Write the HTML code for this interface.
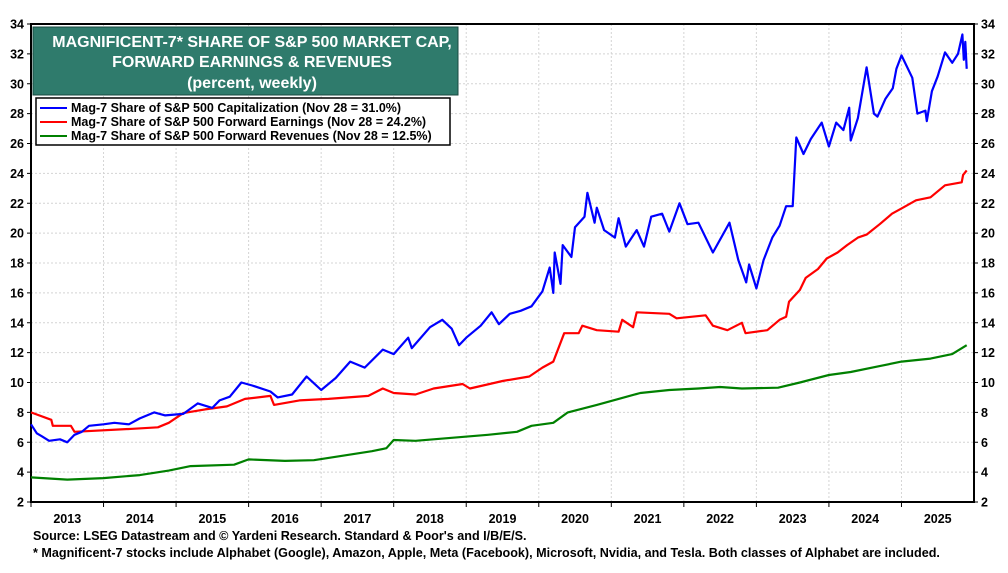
<!DOCTYPE html>
<html><head><meta charset="utf-8"><style>
body{margin:0;background:#fff;width:1008px;height:568px;overflow:hidden;font-family:"Liberation Sans",Arial,sans-serif}
svg text{font-family:"Liberation Sans",Arial,sans-serif;font-weight:bold}
</style></head><body>
<svg id="chart" width="1008" height="568" xmlns="http://www.w3.org/2000/svg">
<g id="grid"></g>
<g id="axes"></g>
<g id="series"></g>
<g>
<rect x="33" y="27" width="425" height="68" fill="#2f7b6c" stroke="#1a4a40" stroke-width="1"/>
<text x="252" y="47" fill="#fff" font-size="16" text-anchor="middle">MAGNIFICENT-7* SHARE OF S&amp;P 500 MARKET CAP,</text>
<text x="252" y="67" fill="#fff" font-size="16" text-anchor="middle">FORWARD EARNINGS &amp; REVENUES</text>
<text x="252" y="88" fill="#fff" font-size="16" text-anchor="middle">(percent, weekly)</text>
</g>
<g>
<rect x="36" y="98" width="414" height="47" fill="#fff" stroke="#000" stroke-width="1.5"/>
<line x1="40" y1="108" x2="67" y2="108" stroke="#0000ff" stroke-width="2"/>
<text x="71" y="112" font-size="12.5">Mag-7 Share of S&amp;P 500 Capitalization (Nov 28 = 31.0%)</text>
<line x1="40" y1="122" x2="67" y2="122" stroke="#ff0000" stroke-width="2"/>
<text x="71" y="126" font-size="12.5">Mag-7 Share of S&amp;P 500 Forward Earnings (Nov 28 = 24.2%)</text>
<line x1="40" y1="136" x2="67" y2="136" stroke="#008000" stroke-width="2"/>
<text x="71" y="140" font-size="12.5">Mag-7 Share of S&amp;P 500 Forward Revenues (Nov 28 = 12.5%)</text>
</g>
<text x="33" y="540" font-size="12.6">Source: LSEG Datastream and © Yardeni Research. Standard &amp; Poor's and I/B/E/S.</text>
<text x="33" y="557" font-size="12.6">* Magnificent-7 stocks include Alphabet (Google), Amazon, Apple, Meta (Facebook), Microsoft, Nvidia, and Tesla. Both classes of Alphabet are included.</text>
</svg>
<script>
const yTicks=[2,4,6,8,10,12,14,16,18,20,22,24,26,28,30,32,34];
const years=[2013,2014,2015,2016,2017,2018,2019,2020,2021,2022,2023,2024,2025];
const capT=[2013.0,2013.08,2013.15,2013.25,2013.4,2013.5,2013.6,2013.7,2013.8,2014.0,2014.15,2014.35,2014.5,2014.7,2014.85,2015.1,2015.3,2015.5,2015.6,2015.74,2015.9,2016.05,2016.3,2016.4,2016.6,2016.8,2017.0,2017.2,2017.4,2017.6,2017.85,2018.0,2018.2,2018.25,2018.5,2018.67,2018.8,2018.9,2019.0,2019.2,2019.35,2019.45,2019.6,2019.75,2019.9,2020.05,2020.15,2020.2,2020.22,2020.3,2020.33,2020.45,2020.5,2020.63,2020.67,2020.77,2020.8,2020.9,2021.05,2021.1,2021.2,2021.35,2021.45,2021.55,2021.7,2021.8,2021.94,2022.05,2022.2,2022.4,2022.63,2022.75,2022.86,2022.9,2023.0,2023.1,2023.22,2023.32,2023.41,2023.5,2023.55,2023.65,2023.75,2023.9,2024.0,2024.1,2024.2,2024.28,2024.3,2024.4,2024.52,2024.62,2024.67,2024.78,2024.88,2024.93,2025.0,2025.15,2025.22,2025.33,2025.35,2025.42,2025.5,2025.6,2025.7,2025.78,2025.84,2025.86,2025.88,2025.9];
const capV=[7.2,6.6,6.4,6.1,6.2,6.0,6.5,6.7,7.1,7.2,7.3,7.2,7.6,8.0,7.8,7.9,8.6,8.3,8.8,9.05,10.0,9.8,9.4,9.0,9.2,10.4,9.5,10.3,11.4,11.0,12.2,11.9,13.0,12.3,13.7,14.2,13.6,12.5,13.0,13.8,14.7,13.9,14.6,14.8,15.1,16.1,17.7,16.0,18.7,16.6,19.2,18.4,20.4,21.1,22.7,20.7,21.7,20.2,19.7,21.0,19.1,20.2,19.1,21.1,21.3,20.1,22.0,20.6,20.7,18.7,20.7,18.2,16.7,17.9,16.3,18.2,19.7,20.5,21.8,21.8,26.4,25.3,26.3,27.4,25.8,27.4,26.9,28.4,26.2,27.7,31.1,28.0,27.8,29.0,29.7,31.0,31.9,30.4,28.0,28.2,27.5,29.5,30.5,32.1,31.4,32.0,33.3,31.6,32.8,31.0];
const earnT=[2013.0,2013.28,2013.3,2013.55,2013.6,2014.4,2014.75,2014.9,2015.1,2015.4,2015.7,2015.95,2016.3,2016.35,2016.7,2017.1,2017.65,2017.85,2018.0,2018.3,2018.55,2018.95,2019.05,2019.5,2019.87,2020.05,2020.2,2020.35,2020.55,2020.6,2020.8,2021.1,2021.15,2021.3,2021.35,2021.8,2021.9,2022.3,2022.4,2022.6,2022.8,2022.85,2023.15,2023.32,2023.41,2023.45,2023.6,2023.68,2023.85,2023.97,2024.12,2024.25,2024.4,2024.52,2024.7,2024.87,2025.02,2025.2,2025.4,2025.6,2025.83,2025.85,2025.9];
const earnV=[8.0,7.5,7.1,7.1,6.7,6.9,7.0,7.3,7.95,8.2,8.4,8.9,9.1,8.5,8.8,8.9,9.1,9.6,9.3,9.2,9.6,9.9,9.6,10.1,10.4,11.0,11.4,13.3,13.3,13.8,13.5,13.4,14.2,13.7,14.7,14.6,14.3,14.5,13.8,13.5,14.0,13.3,13.5,14.2,14.4,15.4,16.2,17.0,17.6,18.3,18.7,19.2,19.7,19.9,20.6,21.3,21.7,22.2,22.4,23.2,23.4,23.9,24.2];
const revT=[2013.0,2013.5,2014.0,2014.5,2014.9,2015.2,2015.8,2016.0,2016.5,2016.9,2017.3,2017.7,2017.9,2018.0,2018.3,2018.8,2019.3,2019.7,2019.9,2020.2,2020.4,2020.8,2021.1,2021.4,2021.8,2022.2,2022.5,2022.8,2023.3,2023.6,2024.0,2024.3,2024.7,2025.0,2025.4,2025.7,2025.9];
const revV=[3.65,3.5,3.6,3.8,4.1,4.4,4.5,4.85,4.75,4.8,5.1,5.4,5.6,6.15,6.1,6.3,6.5,6.7,7.1,7.3,8.0,8.5,8.9,9.3,9.5,9.6,9.7,9.6,9.65,10.0,10.5,10.7,11.1,11.4,11.6,11.9,12.5];
const L=31,R=974,T=24,B=502;
const xs=t=>L+(t-2013)*(R-L)/13;
const ys=v=>B-(v-2)*(B-T)/32;
const NS='http://www.w3.org/2000/svg';
function mk(tag,at,parent){const e=document.createElementNS(NS,tag);for(const k in at)e.setAttribute(k,at[k]);parent.appendChild(e);return e;}
const grid=document.getElementById('grid'),axes=document.getElementById('axes'),series=document.getElementById('series');
yTicks.forEach(v=>{
  if(v>2&&v<34){const g=mk('line',{x1:L,x2:R,y1:ys(v),y2:ys(v),stroke:'#d4d4d4','stroke-dasharray':'2,2','stroke-width':1},grid);
  
  }
  const a=mk('text',{x:24,y:ys(v)+4.5,'font-size':12.5,'text-anchor':'end'},axes);a.textContent=v;
  
  
  const b=mk('text',{x:981,y:ys(v)+4.5,'font-size':12.5},axes);b.textContent=v;
  
  
  mk('line',{x1:L-4,x2:L,y1:ys(v),y2:ys(v),stroke:'#000'},axes);
  mk('line',{x1:R,x2:R+4,y1:ys(v),y2:ys(v),stroke:'#000'},axes);
});
years.forEach(y=>{
  if(y>2013){const g=mk('line',{x1:xs(y),x2:xs(y),y1:T,y2:B,stroke:'#d4d4d4','stroke-dasharray':'2,2'},grid);
  
  }
  mk('line',{x1:xs(y),x2:xs(y),y1:B,y2:B+5,stroke:'#000'},axes);
  const t=mk('text',{x:xs(y+0.5),y:523,'font-size':12.5,'text-anchor':'middle'},axes);t.textContent=y;
  
  
});
const frame=mk('rect',{x:L,y:T,width:R-L,height:B-T,fill:'none',stroke:'#000','stroke-width':2},axes);


function line(ts,vs,col,name){
  const p=mk('polyline',{points:ts.map((t,i)=>xs(t).toFixed(1)+','+ys(vs[i]).toFixed(1)).join(' '),fill:'none',stroke:col,'stroke-width':2.2,'stroke-linejoin':'round'},series);
  
  
}
line(revT,revV,'#008000','revenues-line');
line(earnT,earnV,'#ff0000','earnings-line');
line(capT,capV,'#0000ff','capitalization-line');
</script>
</body></html>
